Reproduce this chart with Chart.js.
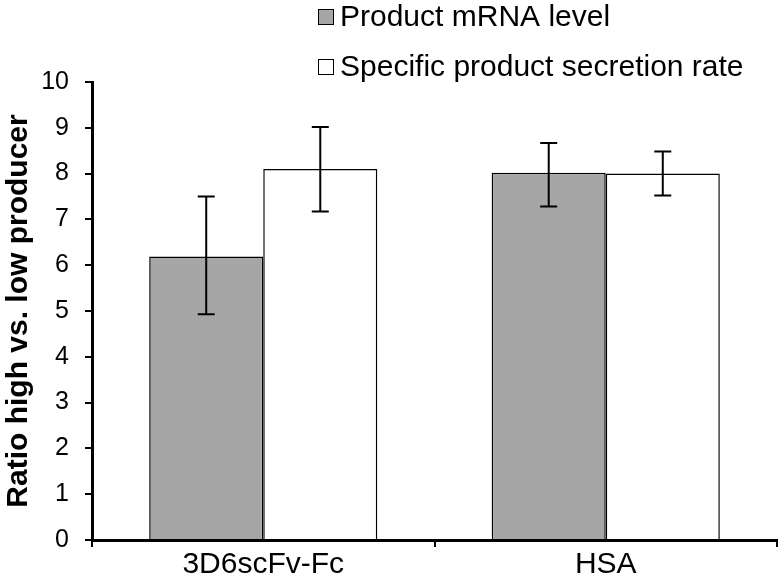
<!doctype html>
<html>
<head>
<meta charset="utf-8">
<title>Ratio high vs. low producer</title>
<script src="https://cdn.jsdelivr.net/npm/chart.js@4.4.1/dist/chart.umd.min.js"></script>
<style>
  html, body { margin: 0; padding: 0; background: #fff; }
  #wrap { width: 783px; height: 580px; }
</style>
</head>
<body>
<div id="wrap"><canvas id="mycanvas"></canvas></div>
<script>
// data
var categories = ["3D6scFv-Fc", "HSA"];
var seriesNames = ["Product mRNA level", "Specific product secretion rate"];
var mrnaValues = [6.19, 8.02];
var mrnaLow = [4.93, 7.28];
var mrnaHigh = [7.50, 8.67];
var secretionValues = [8.10, 8.00];
var secretionLow = [7.17, 7.52];
var secretionHigh = [9.02, 8.48];
var yTicks = [0, 1, 2, 3, 4, 5, 6, 7, 8, 9, 10];

Chart.defaults.font.family = "'Liberation Sans', Arial, sans-serif";
Chart.defaults.color = "#000";

// error bars, drawn through the y scale
var errorBars = {
  id: 'errorBars',
  afterDatasetsDraw: function(chart) {
    var ctx = chart.ctx;
    var y = chart.scales.y;
    ctx.save();
    ctx.strokeStyle = "#000";
    ctx.lineWidth = 2;
    chart.data.datasets.forEach(function(ds, di) {
      var meta = chart.getDatasetMeta(di);
      meta.data.forEach(function(bar, i) {
        var top = y.getPixelForValue(ds.errHigh[i]);
        var bot = y.getPixelForValue(ds.errLow[i]);
        ctx.beginPath();
        ctx.moveTo(bar.x, top); ctx.lineTo(bar.x, bot);
        ctx.moveTo(bar.x - 8.5, top); ctx.lineTo(bar.x + 8.5, top);
        ctx.moveTo(bar.x - 8.5, bot); ctx.lineTo(bar.x + 8.5, bot);
        ctx.stroke();
      });
    });
    ctx.restore();
  }
};

// stacked legend at the top
var stackedLegend = {
  id: 'stackedLegend',
  afterDraw: function(chart) {
    var ctx = chart.ctx;
    ctx.save();
    ctx.font = "30px 'Liberation Sans', Arial, sans-serif";
    ctx.textBaseline = "middle";
    chart.data.datasets.forEach(function(ds, i) {
      var cy = 17 + i * 50;
      ctx.fillStyle = ds.backgroundColor;
      ctx.fillRect(318.5, cy - 7.5, 15, 15);
      ctx.strokeStyle = "#000";
      ctx.lineWidth = 1;
      ctx.strokeRect(318.5, cy - 7.5, 15, 15);
      ctx.fillStyle = "#000";
      ctx.fillText(ds.label, 340, cy + 1);
    });
    ctx.restore();
  }
};

var ctx = document.getElementById("mycanvas");

new Chart(ctx, {
  type: 'bar',
  data: {
    labels: categories,
    datasets: [
      {
        label: seriesNames[0],
        data: mrnaValues,
        errLow: mrnaLow,
        errHigh: mrnaHigh,
        backgroundColor: "#a6a6a6",
        borderColor: "#000",
        borderWidth: 1.5
      },
      {
        label: seriesNames[1],
        data: secretionValues,
        errLow: secretionLow,
        errHigh: secretionHigh,
        backgroundColor: "#ffffff",
        borderColor: "#000",
        borderWidth: 1.5
      }
    ]
  },
  options: {
    responsive: true,
    maintainAspectRatio: false,
    animation: false,
    layout: { padding: { top: 82, right: 6, left: 0, bottom: 0 } },
    datasets: {
      bar: { barPercentage: 1, categoryPercentage: 0.666 }
    },
    plugins: {
      legend: { display: false },
      tooltip: { enabled: false }
    },
    scales: {
      x: {
        afterFit: function(s) { s.height = 40; },
        grid: {
          offset: true,
          drawOnChartArea: false,
          tickLength: 7,
          tickColor: "#000",
          lineWidth: 2
        },
        border: { color: "#000", width: 3 },
        ticks: { font: { size: 30 }, color: "#000", padding: 0 }
      },
      y: {
        min: 0,
        max: 10,
        afterFit: function(s) { s.width = 92; },
        afterBuildTicks: function(s) {
          s.ticks = yTicks.map(function(v) { return { value: v }; });
        },
        grid: {
          drawOnChartArea: false,
          tickLength: 7,
          tickColor: "#000",
          lineWidth: 2
        },
        border: { color: "#000", width: 3 },
        ticks: { font: { size: 25 }, color: "#000", padding: 16 },
        title: {
          display: true,
          text: "Ratio high vs. low producer",
          font: { size: 30, weight: 'bold' },
          color: "#000",
          padding: { top: 1, bottom: 0 }
        }
      }
    }
  },
  plugins: [errorBars, stackedLegend]
});
</script>
</body>
</html>
